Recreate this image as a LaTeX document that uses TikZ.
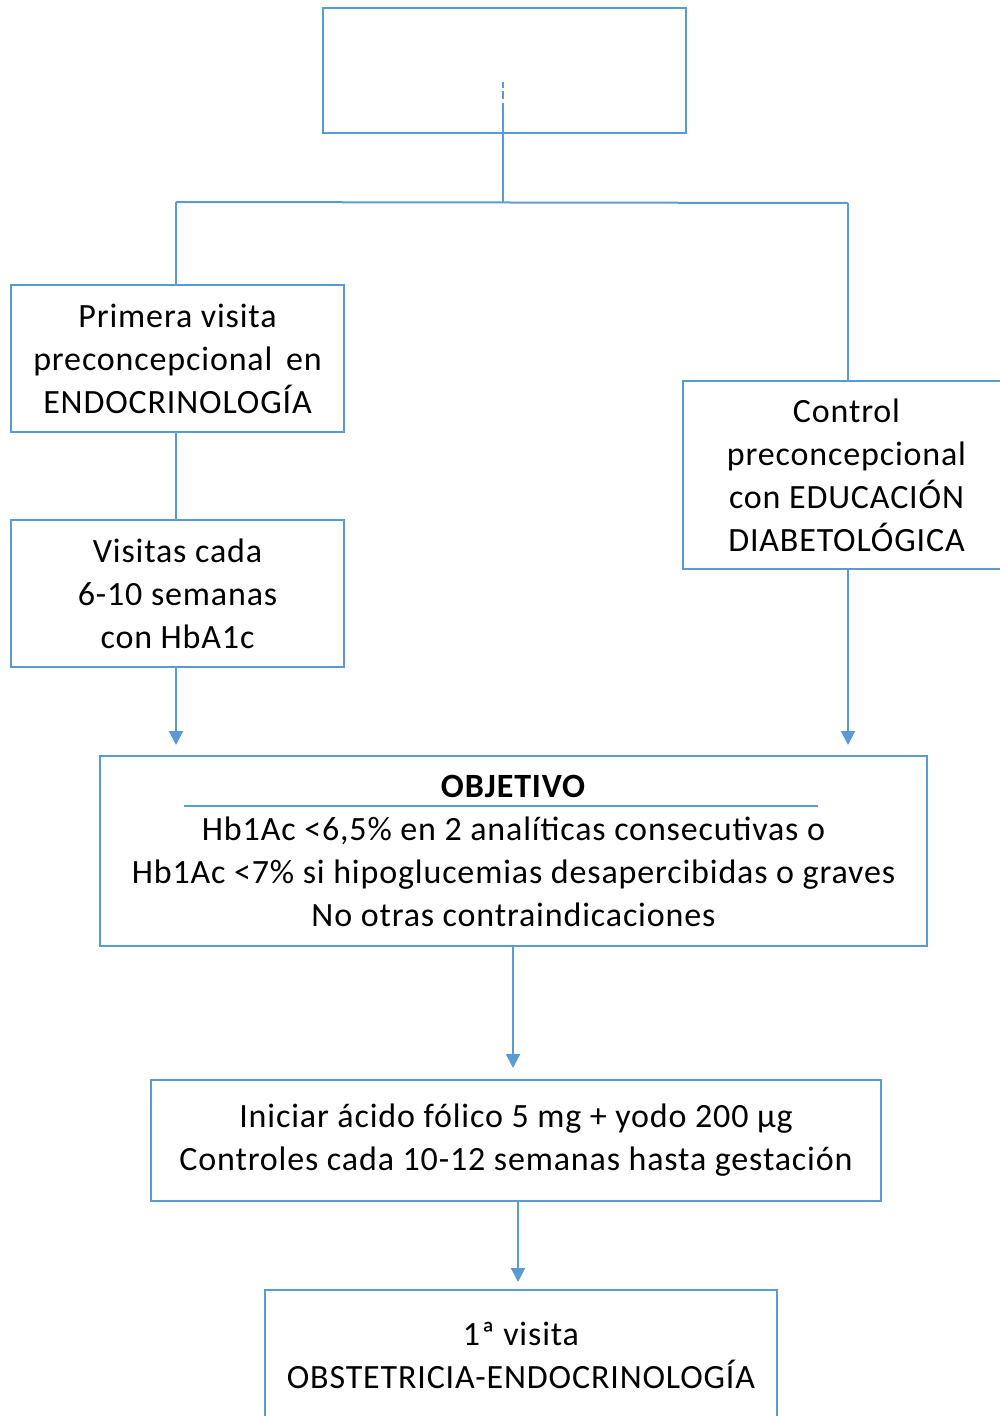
\documentclass[tikz,border=0pt]{standalone}
\usepackage{fontspec}
\setmainfont[LetterSpace=2.5]{Carlito}
\usetikzlibrary{arrows.meta}
\definecolor{lineblue}{HTML}{5B9BD5}
\begin{document}
\begin{tikzpicture}[x=1pt,y=-1pt,
  box/.style={draw=lineblue,line width=2pt,inner sep=0pt,align=center,
    font=\fontsize{34}{43}\selectfont},
  conn/.style={draw=lineblue,line width=2pt},
  arr/.style={conn,-{Triangle[width=14pt,length=14pt]},lineblue}]
\useasboundingbox (0,0) rectangle (1000,1416);
\node[box,minimum width=363pt,minimum height=125pt] (top) at (504.5,70.5) {};
\node[box,minimum width=333pt,minimum height=147pt] (b1) at (177.5,358.5)
  {Primera visita\\preconcepcional\hspace{0.4em}en\\ENDOCRINOLOGÍA};
\node[box,minimum width=333pt,minimum height=147pt] (b2) at (177.5,593.5)
  {Visitas cada\\6-10 semanas\\con HbA1c};
\node[box,minimum width=327pt,minimum height=188pt] (b3) at (846.5,475)
  {Control\\preconcepcional\\con EDUCACIÓN\\DIABETOLÓGICA};
\node[box,minimum width=827pt,minimum height=190pt] (obj) at (513.5,851)
  {\textbf{OBJETIVO}\\Hb1Ac <6,5\% en 2 analíticas consecutivas o\\Hb1Ac <7\% si hipoglucemias desapercibidas o graves\\No otras contraindicaciones};
\node[box,minimum width=730pt,minimum height=121pt] (b5) at (516,1140.5)
  {Iniciar ácido fólico 5 mg + yodo 200 µg\\Controles cada 10-12 semanas hasta gestación};
\node[box,minimum width=512pt,minimum height=131pt] (b6) at (521,1355.5)
  {1ª visita\\OBSTETRICIA-ENDOCRINOLOGÍA};
% underline of OBJETIVO
\coordinate (ulA) at (184,806);
\coordinate (ulB) at (818,806);
\draw[draw=lineblue,line width=1.5pt] (ulA) -- (ulB);
% top connector
\coordinate (s0) at (503,82);
\coordinate (s1) at (503,88);
\coordinate (s2) at (503,91);
\coordinate (s3) at (503,99);
\coordinate (s4) at (503,103);
\coordinate (j) at (503,202);
\coordinate (jl) at (176,202);
\coordinate (jr) at (848,203);
\draw[conn] (s0) -- (s1);
\draw[conn] (s2) -- (s3);
\draw[conn] (s4) -- (j);
\draw[conn] (jl) -- (jr);
\draw[conn] (jl) -- (jl |- b1.north);
\draw[conn] (jr) -- (jr |- b3.north);
\draw[conn] (b1.south -| jl) -- (b2.north -| jl);
\coordinate (t1) at (176,745);
\coordinate (t2) at (848,745);
\draw[arr] (b2.south -| t1) -- (t1);
\draw[arr] (b3.south -| t2) -- (t2);
\coordinate (t3) at (513,1068);
\draw[arr] (obj.south -| t3) -- (t3);
\coordinate (t4) at (518,1282);
\draw[arr] (b5.south -| t4) -- (t4);
\end{tikzpicture}
\end{document}
